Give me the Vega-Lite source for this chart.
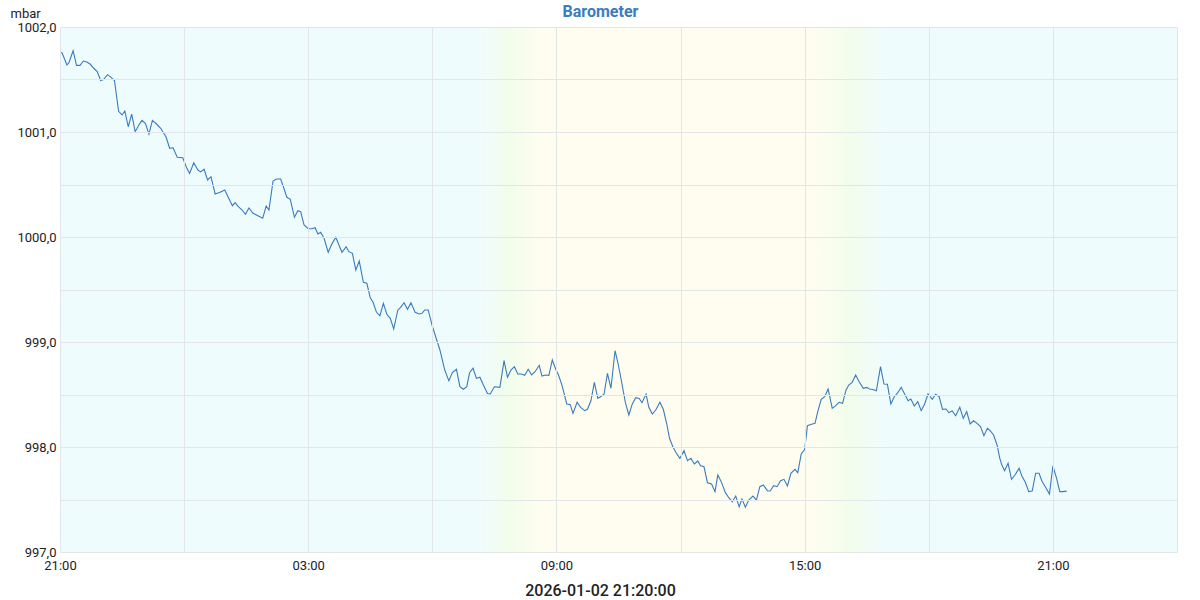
{
"$schema":"https://vega.github.io/schema/vega-lite/v6.json",
"width":1117,"height":525,
"autosize":{"type":"none"},
"padding":{"left":60,"top":27,"right":23,"bottom":48},
"background":"#ffffff",
"config":{"view":{"stroke":null},"font":"Roboto"},
"title":{"text":"Barometer","color":"#3a7dbf","fontSize":16,"fontWeight":"bold","font":"Roboto","anchor":"middle","dx":-18,"offset":-13},
"datasets":{
"bands":[
{"t":"2026-01-01T21:00","t2":"2026-01-02T07:10","phase":"night"},
{"t":"2026-01-02T07:10","t2":"2026-01-02T08:35","phase":"dawn"},
{"t":"2026-01-02T08:35","t2":"2026-01-02T15:15","phase":"day"},
{"t":"2026-01-02T15:15","t2":"2026-01-02T16:55","phase":"dusk"},
{"t":"2026-01-02T16:55","t2":"2026-01-03T00:00","phase":"night"}
],
"baro":[
{"t":"2026-01-01T21:00","p":1001.755},{"t":"2026-01-01T21:03","p":1001.755},{"t":"2026-01-01T21:10","p":1001.638},{"t":"2026-01-01T21:13","p":1001.66},{"t":"2026-01-01T21:19","p":1001.774},{"t":"2026-01-01T21:24","p":1001.635},{"t":"2026-01-01T21:29","p":1001.635},{"t":"2026-01-01T21:34","p":1001.676},{"t":"2026-01-01T21:39","p":1001.667},{"t":"2026-01-01T21:44","p":1001.645},{"t":"2026-01-01T21:49","p":1001.607},{"t":"2026-01-01T21:54","p":1001.575},{"t":"2026-01-01T21:59","p":1001.49},{"t":"2026-01-01T22:03","p":1001.5},{"t":"2026-01-01T22:09","p":1001.546},{"t":"2026-01-01T22:14","p":1001.52},{"t":"2026-01-01T22:19","p":1001.49},{"t":"2026-01-01T22:25","p":1001.197},{"t":"2026-01-01T22:30","p":1001.162},{"t":"2026-01-01T22:34","p":1001.2},{"t":"2026-01-01T22:39","p":1001.05},{"t":"2026-01-01T22:44","p":1001.171},{"t":"2026-01-01T22:49","p":1001.003},{"t":"2026-01-01T22:55","p":1001.073},{"t":"2026-01-01T22:59","p":1001.11},{"t":"2026-01-01T23:04","p":1001.08},{"t":"2026-01-01T23:09","p":1000.98},{"t":"2026-01-01T23:14","p":1001.11},{"t":"2026-01-01T23:20","p":1001.076},{"t":"2026-01-01T23:26","p":1001.035},{"t":"2026-01-01T23:34","p":1000.95},{"t":"2026-01-01T23:39","p":1000.845},{"t":"2026-01-01T23:44","p":1000.85},{"t":"2026-01-01T23:50","p":1000.759},{"t":"2026-01-01T23:58","p":1000.755},
{"t":"2026-01-02T00:04","p":1000.654},{"t":"2026-01-02T00:08","p":1000.606},{"t":"2026-01-02T00:14","p":1000.707},{"t":"2026-01-02T00:20","p":1000.638},{"t":"2026-01-02T00:24","p":1000.62},{"t":"2026-01-02T00:29","p":1000.645},{"t":"2026-01-02T00:34","p":1000.543},{"t":"2026-01-02T00:39","p":1000.574},{"t":"2026-01-02T00:45","p":1000.41},{"t":"2026-01-02T00:52","p":1000.426},{"t":"2026-01-02T00:59","p":1000.448},{"t":"2026-01-02T01:04","p":1000.378},{"t":"2026-01-02T01:10","p":1000.298},{"t":"2026-01-02T01:14","p":1000.327},{"t":"2026-01-02T01:18","p":1000.295},{"t":"2026-01-02T01:24","p":1000.257},{"t":"2026-01-02T01:29","p":1000.216},{"t":"2026-01-02T01:34","p":1000.276},{"t":"2026-01-02T01:40","p":1000.226},{"t":"2026-01-02T01:47","p":1000.203},{"t":"2026-01-02T01:54","p":1000.178},{"t":"2026-01-02T01:59","p":1000.295},{"t":"2026-01-02T02:03","p":1000.257},{"t":"2026-01-02T02:09","p":1000.533},{"t":"2026-01-02T02:14","p":1000.552},{"t":"2026-01-02T02:20","p":1000.552},{"t":"2026-01-02T02:24","p":1000.479},{"t":"2026-01-02T02:29","p":1000.378},{"t":"2026-01-02T02:34","p":1000.359},{"t":"2026-01-02T02:40","p":1000.188},{"t":"2026-01-02T02:45","p":1000.25},{"t":"2026-01-02T02:49","p":1000.241},{"t":"2026-01-02T02:54","p":1000.114},{"t":"2026-01-02T03:00","p":1000.079},{"t":"2026-01-02T03:05","p":1000.079},{"t":"2026-01-02T03:10","p":1000.089},{"t":"2026-01-02T03:14","p":1000.029},{"t":"2026-01-02T03:18","p":1000.045},{"t":"2026-01-02T03:23","p":999.988},{"t":"2026-01-02T03:29","p":999.854},{"t":"2026-01-02T03:34","p":999.93},{"t":"2026-01-02T03:40","p":999.997},{"t":"2026-01-02T03:45","p":999.917},{"t":"2026-01-02T03:49","p":999.854},{"t":"2026-01-02T03:55","p":999.908},{"t":"2026-01-02T03:59","p":999.86},{"t":"2026-01-02T04:04","p":999.845},{"t":"2026-01-02T04:09","p":999.686},{"t":"2026-01-02T04:14","p":999.771},{"t":"2026-01-02T04:20","p":999.568},{"t":"2026-01-02T04:25","p":999.559},{"t":"2026-01-02T04:30","p":999.422},{"t":"2026-01-02T04:34","p":999.378},{"t":"2026-01-02T04:39","p":999.283},{"t":"2026-01-02T04:44","p":999.25},{"t":"2026-01-02T04:49","p":999.368},{"t":"2026-01-02T04:54","p":999.264},{"t":"2026-01-02T04:59","p":999.226},{"t":"2026-01-02T05:04","p":999.124},{"t":"2026-01-02T05:10","p":999.305},{"t":"2026-01-02T05:14","p":999.33},{"t":"2026-01-02T05:19","p":999.374},{"t":"2026-01-02T05:24","p":999.311},{"t":"2026-01-02T05:29","p":999.374},{"t":"2026-01-02T05:35","p":999.283},{"t":"2026-01-02T05:41","p":999.267},{"t":"2026-01-02T05:45","p":999.273},{"t":"2026-01-02T05:49","p":999.305},{"t":"2026-01-02T05:54","p":999.305},{"t":"2026-01-02T06:00","p":999.152},{"t":"2026-01-02T06:06","p":999.026},{"t":"2026-01-02T06:11","p":998.924},{"t":"2026-01-02T06:18","p":998.733},{"t":"2026-01-02T06:24","p":998.63},{"t":"2026-01-02T06:29","p":998.708},{"t":"2026-01-02T06:35","p":998.74},{"t":"2026-01-02T06:40","p":998.574},{"t":"2026-01-02T06:45","p":998.55},{"t":"2026-01-02T06:50","p":998.574},{"t":"2026-01-02T06:54","p":998.708},{"t":"2026-01-02T06:59","p":998.75},{"t":"2026-01-02T07:04","p":998.654},{"t":"2026-01-02T07:09","p":998.664},{"t":"2026-01-02T07:14","p":998.59},{"t":"2026-01-02T07:20","p":998.51},{"t":"2026-01-02T07:24","p":998.505},{"t":"2026-01-02T07:30","p":998.574},{"t":"2026-01-02T07:38","p":998.568},{"t":"2026-01-02T07:44","p":998.822},{"t":"2026-01-02T07:49","p":998.664},{"t":"2026-01-02T07:54","p":998.733},{"t":"2026-01-02T07:59","p":998.765},{"t":"2026-01-02T08:04","p":998.695},{"t":"2026-01-02T08:09","p":998.695},{"t":"2026-01-02T08:14","p":998.683},{"t":"2026-01-02T08:19","p":998.74},{"t":"2026-01-02T08:24","p":998.686},{"t":"2026-01-02T08:29","p":998.717},{"t":"2026-01-02T08:35","p":998.778},{"t":"2026-01-02T08:39","p":998.676},{"t":"2026-01-02T08:44","p":998.686},{"t":"2026-01-02T08:49","p":998.683},{"t":"2026-01-02T08:54","p":998.829},{"t":"2026-01-02T08:59","p":998.74},{"t":"2026-01-02T09:03","p":998.686},{"t":"2026-01-02T09:08","p":998.59},{"t":"2026-01-02T09:15","p":998.41},{"t":"2026-01-02T09:20","p":998.403},{"t":"2026-01-02T09:24","p":998.32},{"t":"2026-01-02T09:30","p":998.426},{"t":"2026-01-02T09:35","p":998.378},{"t":"2026-01-02T09:41","p":998.346},{"t":"2026-01-02T09:45","p":998.359},{"t":"2026-01-02T09:50","p":998.44},{"t":"2026-01-02T09:55","p":998.616},{"t":"2026-01-02T10:00","p":998.463},{"t":"2026-01-02T10:04","p":998.479},{"t":"2026-01-02T10:09","p":998.502},{"t":"2026-01-02T10:14","p":998.702},{"t":"2026-01-02T10:19","p":998.559},{"t":"2026-01-02T10:25","p":998.917},{"t":"2026-01-02T10:29","p":998.807},{"t":"2026-01-02T10:34","p":998.638},{"t":"2026-01-02T10:40","p":998.422},{"t":"2026-01-02T10:45","p":998.305},{"t":"2026-01-02T10:50","p":998.41},{"t":"2026-01-02T10:55","p":998.47},{"t":"2026-01-02T11:00","p":998.463},{"t":"2026-01-02T11:04","p":998.422},{"t":"2026-01-02T11:10","p":998.502},{"t":"2026-01-02T11:14","p":998.378},{"t":"2026-01-02T11:19","p":998.314},{"t":"2026-01-02T11:24","p":998.352},{"t":"2026-01-02T11:30","p":998.426},{"t":"2026-01-02T11:35","p":998.359},{"t":"2026-01-02T11:40","p":998.219},{"t":"2026-01-02T11:44","p":998.083},{"t":"2026-01-02T11:49","p":998.0},{"t":"2026-01-02T11:54","p":997.94},{"t":"2026-01-02T11:59","p":997.892},{"t":"2026-01-02T12:05","p":997.965},{"t":"2026-01-02T12:10","p":997.87},{"t":"2026-01-02T12:15","p":997.892},{"t":"2026-01-02T12:20","p":997.838},{"t":"2026-01-02T12:25","p":997.867},{"t":"2026-01-02T12:29","p":997.822},{"t":"2026-01-02T12:34","p":997.813},{"t":"2026-01-02T12:39","p":997.66},{"t":"2026-01-02T12:45","p":997.648},{"t":"2026-01-02T12:50","p":997.575},{"t":"2026-01-02T12:54","p":997.733},{"t":"2026-01-02T12:59","p":997.67},{"t":"2026-01-02T13:05","p":997.565},{"t":"2026-01-02T13:10","p":997.517},{"t":"2026-01-02T13:15","p":997.479},{"t":"2026-01-02T13:20","p":997.533},{"t":"2026-01-02T13:25","p":997.43},{"t":"2026-01-02T13:29","p":997.505},{"t":"2026-01-02T13:34","p":997.426},{"t":"2026-01-02T13:39","p":997.495},{"t":"2026-01-02T13:45","p":997.533},{"t":"2026-01-02T13:50","p":997.495},{"t":"2026-01-02T13:55","p":997.622},{"t":"2026-01-02T14:00","p":997.638},{"t":"2026-01-02T14:06","p":997.584},{"t":"2026-01-02T14:10","p":997.581},{"t":"2026-01-02T14:15","p":997.632},{"t":"2026-01-02T14:20","p":997.622},{"t":"2026-01-02T14:25","p":997.679},{"t":"2026-01-02T14:30","p":997.692},{"t":"2026-01-02T14:35","p":997.629},{"t":"2026-01-02T14:40","p":997.75},{"t":"2026-01-02T14:46","p":997.787},{"t":"2026-01-02T14:50","p":997.755},{"t":"2026-01-02T14:55","p":997.933},{"t":"2026-01-02T15:00","p":997.975},{"t":"2026-01-02T15:04","p":998.203},{"t":"2026-01-02T15:10","p":998.216},{"t":"2026-01-02T15:15","p":998.225},{"t":"2026-01-02T15:19","p":998.337},{"t":"2026-01-02T15:24","p":998.454},{"t":"2026-01-02T15:29","p":998.479},{"t":"2026-01-02T15:34","p":998.552},{"t":"2026-01-02T15:40","p":998.368},{"t":"2026-01-02T15:45","p":998.394},{"t":"2026-01-02T15:50","p":998.426},{"t":"2026-01-02T15:55","p":998.416},{"t":"2026-01-02T16:00","p":998.543},{"t":"2026-01-02T16:04","p":998.59},{"t":"2026-01-02T16:09","p":998.616},{"t":"2026-01-02T16:14","p":998.686},{"t":"2026-01-02T16:19","p":998.622},{"t":"2026-01-02T16:25","p":998.559},{"t":"2026-01-02T16:30","p":998.568},{"t":"2026-01-02T16:34","p":998.552},{"t":"2026-01-02T16:39","p":998.548},{"t":"2026-01-02T16:44","p":998.535},{"t":"2026-01-02T16:50","p":998.765},{"t":"2026-01-02T16:55","p":998.6},{"t":"2026-01-02T17:00","p":998.597},{"t":"2026-01-02T17:05","p":998.41},{"t":"2026-01-02T17:10","p":998.479},{"t":"2026-01-02T17:15","p":998.517},{"t":"2026-01-02T17:20","p":998.568},{"t":"2026-01-02T17:25","p":998.505},{"t":"2026-01-02T17:30","p":998.44},{"t":"2026-01-02T17:34","p":998.457},{"t":"2026-01-02T17:39","p":998.39},{"t":"2026-01-02T17:44","p":998.432},{"t":"2026-01-02T17:49","p":998.346},{"t":"2026-01-02T17:54","p":998.41},{"t":"2026-01-02T17:59","p":998.505},{"t":"2026-01-02T18:05","p":998.454},{"t":"2026-01-02T18:10","p":998.502},{"t":"2026-01-02T18:15","p":998.479},{"t":"2026-01-02T18:20","p":998.359},{"t":"2026-01-02T18:25","p":998.362},{"t":"2026-01-02T18:29","p":998.327},{"t":"2026-01-02T18:34","p":998.343},{"t":"2026-01-02T18:39","p":998.298},{"t":"2026-01-02T18:45","p":998.378},{"t":"2026-01-02T18:50","p":998.273},{"t":"2026-01-02T18:55","p":998.337},{"t":"2026-01-02T19:00","p":998.219},{"t":"2026-01-02T19:05","p":998.25},{"t":"2026-01-02T19:10","p":998.225},{"t":"2026-01-02T19:15","p":998.194},{"t":"2026-01-02T19:20","p":998.108},{"t":"2026-01-02T19:25","p":998.178},{"t":"2026-01-02T19:29","p":998.156},{"t":"2026-01-02T19:34","p":998.114},{"t":"2026-01-02T19:39","p":998.019},{"t":"2026-01-02T19:43","p":997.892},{"t":"2026-01-02T19:46","p":997.829},{"t":"2026-01-02T19:50","p":997.775},{"t":"2026-01-02T19:55","p":997.845},{"t":"2026-01-02T20:00","p":997.692},{"t":"2026-01-02T20:05","p":997.733},{"t":"2026-01-02T20:11","p":997.797},{"t":"2026-01-02T20:15","p":997.724},{"t":"2026-01-02T20:20","p":997.664},{"t":"2026-01-02T20:25","p":997.575},{"t":"2026-01-02T20:30","p":997.581},{"t":"2026-01-02T20:35","p":997.75},{"t":"2026-01-02T20:40","p":997.75},{"t":"2026-01-02T20:44","p":997.676},{"t":"2026-01-02T20:49","p":997.622},{"t":"2026-01-02T20:55","p":997.552},{"t":"2026-01-02T21:00","p":997.819},{"t":"2026-01-02T21:05","p":997.711},{"t":"2026-01-02T21:10","p":997.575},{"t":"2026-01-02T21:15","p":997.575},{"t":"2026-01-02T21:20","p":997.58}
]
},
"layer":[
{"data":{"name":"bands"},"transform":[{"filter":"datum.phase == 'night' || datum.phase == 'day'"}],
"mark":{"type":"rect"},
"encoding":{
"x":{"field":"t","type":"temporal",
"scale":{"domain":[{"year":2026,"month":1,"date":1,"hours":21},{"year":2026,"month":1,"date":3,"hours":0}],"nice":false},
"axis":{"title":"2026-01-02 21:20:00","titleFontSize":16,"titleFontWeight":500,"titleColor":"#222222","titleFont":"Roboto","titleX":540,"titlePadding":10,
"values":[{"year":2026,"month":1,"date":1,"hours":21},{"year":2026,"month":1,"date":2,"hours":0},{"year":2026,"month":1,"date":2,"hours":3},{"year":2026,"month":1,"date":2,"hours":6},{"year":2026,"month":1,"date":2,"hours":9},{"year":2026,"month":1,"date":2,"hours":12},{"year":2026,"month":1,"date":2,"hours":15},{"year":2026,"month":1,"date":2,"hours":18},{"year":2026,"month":1,"date":2,"hours":21},{"year":2026,"month":1,"date":3,"hours":0}],
"labelExpr":"hours(datum.value) % 6 == 3 ? timeFormat(datum.value, '%H:%M') : ''",
"labelFlush":false,"labelOverlap":false,"labelFontSize":13,"labelColor":"#222222","labelFont":"Roboto","labelPadding":7,
"ticks":false,"domain":false,"grid":true,"gridColor":"#e2e6e8","zindex":1}},
"x2":{"field":"t2"},
"color":{"field":"phase","type":"nominal","scale":{"domain":["night","day"],"range":["#effcfd","#fefdf0"]},"legend":null}}},
{"data":{"name":"bands"},"transform":[{"filter":"datum.phase == 'dawn'"}],
"mark":{"type":"rect","fill":{"gradient":"linear","x1":0,"x2":1,"y1":0,"y2":0,"stops":[{"offset":0,"color":"#effcfd"},{"offset":0.5,"color":"#f2fdeb"},{"offset":1,"color":"#fefdf0"}]}},
"encoding":{"x":{"field":"t","type":"temporal"},"x2":{"field":"t2"}}},
{"data":{"name":"bands"},"transform":[{"filter":"datum.phase == 'dusk'"}],
"mark":{"type":"rect","fill":{"gradient":"linear","x1":0,"x2":1,"y1":0,"y2":0,"stops":[{"offset":0,"color":"#fefdf0"},{"offset":0.5,"color":"#f2fdeb"},{"offset":1,"color":"#effcfd"}]}},
"encoding":{"x":{"field":"t","type":"temporal"},"x2":{"field":"t2"}}},
{"data":{"name":"baro"},
"mark":{"type":"line","color":"#3a7bbd","strokeWidth":1.1},
"encoding":{
"x":{"field":"t","type":"temporal"},
"y":{"field":"p","type":"quantitative",
"scale":{"domain":[997,1002],"nice":false,"zero":false},
"axis":{"title":"mbar","titleAngle":0,"titleAlign":"left","titleBaseline":"middle","titleX":-50,"titleY":-14,"titleFontSize":13,"titleFontWeight":"normal","titleColor":"#222222","titleFont":"Roboto",
"values":[997,997.5,998,998.5,999,999.5,1000,1000.5,1001,1001.5,1002],
"labelExpr":"datum.value % 1 == 0 ? replace(format(datum.value, '.1f'), '.', ',') : ''",
"labelFontSize":13,"labelColor":"#222222","labelFont":"Roboto","labelPadding":4,"ticks":false,"domain":false,"gridColor":"#e2e6e8","zindex":1}}}}
]
}
